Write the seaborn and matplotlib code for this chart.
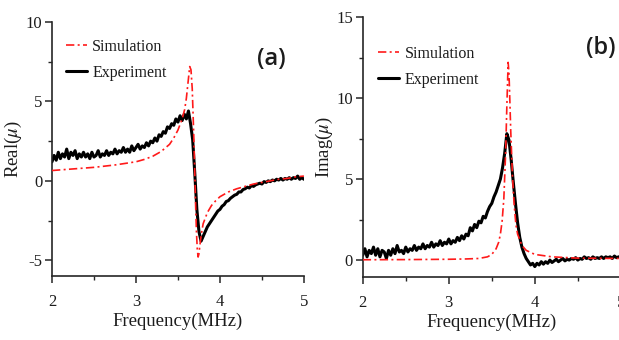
import numpy as np
import pandas as pd
import matplotlib
matplotlib.use("Agg")
import matplotlib.pyplot as plt
from matplotlib.ticker import MultipleLocator
import seaborn as sns

# ---------------- data ----------------
sim_freq_a = [2.0, 2.25, 2.5, 2.75, 3.0, 3.1, 3.2, 3.3, 3.4, 3.45, 3.5, 3.55, 3.58, 3.6, 3.62, 3.64,
              3.655, 3.67, 3.68, 3.69, 3.70, 3.71, 3.72, 3.73, 3.74, 3.75, 3.76, 3.78, 3.8, 3.85,
              3.9, 3.95, 4.0, 4.1, 4.2, 4.3, 4.4, 4.5, 4.6, 4.7, 4.8, 4.9, 5.0]
sim_real = [0.65, 0.75, 0.85, 1.0, 1.2, 1.35, 1.55, 1.85, 2.3, 2.7, 3.2, 3.9, 4.5, 5.2, 6.2, 7.2,
            7.0, 5.8, 4.2, 2.5, 0.6, -1.5, -3.2, -4.3, -4.8, -4.6, -4.1, -3.3, -2.7, -2.0,
            -1.55, -1.25, -1.0, -0.7, -0.5, -0.35, -0.2, -0.1, 0.0, 0.1, 0.15, 0.25, 0.3]

sim_freq_b = [2.0, 2.5, 3.0, 3.2, 3.35, 3.45, 3.5, 3.55, 3.58, 3.6, 3.62, 3.64, 3.66, 3.675, 3.69,
              3.70, 3.71, 3.72, 3.74, 3.76, 3.78, 3.8, 3.85, 3.9, 4.0, 4.2, 4.5, 5.0]
sim_imag = [0.02, 0.03, 0.05, 0.07, 0.1, 0.2, 0.35, 0.7, 1.1, 1.6, 2.4, 3.8, 6.5, 9.5, 12.2,
            11.5, 9.8, 8.0, 5.2, 3.4, 2.2, 1.6, 0.9, 0.6, 0.35, 0.2, 0.12, 0.1]

exp_freq = [2.000, 2.025, 2.050, 2.075, 2.100, 2.125, 2.150, 2.175, 2.200, 2.225, 2.250, 2.275,
            2.300, 2.325, 2.350, 2.375, 2.400, 2.425, 2.450, 2.475, 2.500, 2.525, 2.550, 2.575,
            2.600, 2.625, 2.650, 2.675, 2.700, 2.725, 2.750, 2.775, 2.800, 2.825, 2.850, 2.875,
            2.900, 2.925, 2.950, 2.975, 3.000, 3.025, 3.050, 3.075, 3.100, 3.125, 3.150, 3.175,
            3.200, 3.225, 3.250, 3.275, 3.300, 3.325, 3.350, 3.375, 3.400, 3.425, 3.450, 3.475,
            3.500, 3.525, 3.550, 3.575, 3.600, 3.625, 3.650, 3.675, 3.700, 3.725, 3.750, 3.775,
            3.800, 3.825, 3.850, 3.875, 3.900, 3.925, 3.950, 3.975, 4.000, 4.025, 4.050, 4.075,
            4.100, 4.125, 4.150, 4.175, 4.200, 4.225, 4.250, 4.275, 4.300, 4.325, 4.350, 4.375,
            4.400, 4.425, 4.450, 4.475, 4.500, 4.525, 4.550, 4.575, 4.600, 4.625, 4.650, 4.675,
            4.700, 4.725, 4.750, 4.775, 4.800, 4.825, 4.850, 4.875, 4.900, 4.925, 4.950, 4.975,
            5.000]

exp_real = [1.2, 1.6, 1.3, 1.8, 1.4, 1.7, 1.5, 2.0, 1.4, 1.8, 1.6, 1.9,
            1.4, 1.7, 1.5, 1.8, 1.5, 1.7, 1.4, 1.8, 1.5, 1.6, 1.9, 1.5,
            1.7, 1.6, 1.9, 1.6, 1.8, 1.7, 2.0, 1.7, 1.9, 1.8, 2.1, 1.8,
            2.0, 1.8, 2.2, 1.9, 2.1, 2.3, 2.0, 2.2, 2.1, 2.4, 2.2, 2.5,
            2.4, 2.7, 2.5, 2.9, 2.8, 3.1, 3.0, 3.4, 3.3, 3.6, 3.5, 3.9,
            3.7, 4.1, 3.8, 4.2, 3.9, 4.4, 3.6, 2.6, 0.5, -1.8, -3.2, -3.8,
            -3.5, -3.2, -2.9, -2.7, -2.5, -2.3, -2.1, -1.9, -1.8, -1.6, -1.5, -1.3,
            -1.25, -1.1, -1.0, -0.9, -0.85, -0.7, -0.7, -0.55, -0.5, -0.4, -0.45, -0.3,
            -0.35, -0.25, -0.2, -0.15, -0.2, -0.05, -0.1, 0.0, -0.05, 0.05, 0.0, 0.1,
            0.05, 0.15, 0.05, 0.15, 0.1, 0.2, 0.1, 0.2, 0.15, 0.3, 0.1, 0.2,
            0.1]

exp_imag = [0.3, 0.7, 0.2, 0.6, 0.4, 0.8, 0.3, 0.7, 0.2, 0.6, 0.5, 0.1,
            0.6, 0.3, 0.7, 0.4, 0.9, 0.5, 0.6, 0.4, 0.8, 0.5, 0.7, 0.6,
            0.9, 0.6, 0.8, 0.7, 1.0, 0.7, 0.9, 0.8, 1.1, 0.8, 1.0, 0.9,
            1.2, 0.9, 1.1, 1.0, 1.3, 1.0, 1.2, 1.1, 1.4, 1.2, 1.5, 1.3,
            1.6, 1.5, 2.0, 1.8, 2.2, 2.0, 2.4, 2.3, 2.7, 2.6, 3.0, 3.3,
            3.5, 3.9, 4.2, 4.6, 5.0, 5.7, 6.6, 7.8, 7.4, 6.2, 4.8, 3.5,
            2.3, 1.4, 0.8, 0.4, 0.1, -0.1, -0.3, -0.2, -0.4, -0.2, -0.3, -0.1,
            -0.25, -0.1, -0.2, 0.0, -0.15, -0.05, 0.05, -0.1, 0.0, 0.1, -0.05, 0.05,
            0.0, 0.1, 0.05, 0.15, 0.0, 0.1, 0.05, 0.2, 0.1, 0.15, 0.05, 0.2,
            0.1, 0.15, 0.1, 0.2, 0.1, 0.2, 0.15, 0.2, 0.1, 0.25, 0.15, 0.2,
            0.2]

# ---------------- style ----------------
sns.set_style("ticks")
plt.rcParams["font.family"] = ["Liberation Serif", "DejaVu Serif"]
plt.rcParams["mathtext.fontset"] = "stix"
plt.rcParams["axes.unicode_minus"] = False

TXT = "#1c1c1c"

fig = plt.figure(figsize=(6.19, 3.40), dpi=100)
ax_a = fig.add_axes([0.084, 0.188, 0.407, 0.747])
ax_b = fig.add_axes([0.586, 0.185, 0.417, 0.765])

df_sim_a = pd.DataFrame({"f": sim_freq_a, "v": sim_real})
df_exp_a = pd.DataFrame({"f": exp_freq, "v": exp_real})
df_sim_b = pd.DataFrame({"f": sim_freq_b, "v": sim_imag})
df_exp_b = pd.DataFrame({"f": exp_freq, "v": exp_imag})


def panel(ax, df_sim, df_exp, ylim, ymajor, ylabel, tag, tagpos, legpos):
    sns.lineplot(data=df_exp, x="f", y="v", ax=ax, color="black", linewidth=2.2,
                 label="Experiment", zorder=2)
    sns.lineplot(data=df_sim, x="f", y="v", ax=ax, color="#ff1a1a", linewidth=1.2,
                 linestyle=(0, (5, 2, 1.2, 2)), label="Simulation", zorder=3)
    ax.set_xlim(2, 5)
    ax.set_ylim(*ylim)
    ax.xaxis.set_major_locator(MultipleLocator(1))
    ax.xaxis.set_minor_locator(MultipleLocator(0.5))
    ax.yaxis.set_major_locator(MultipleLocator(ymajor))
    ax.yaxis.set_minor_locator(MultipleLocator(ymajor / 2))
    ax.tick_params(which="major", direction="out", length=5, width=1.1,
                   labelsize=12, labelcolor=TXT)
    ax.tick_params(axis="x", which="major", pad=8)
    ax.tick_params(axis="y", which="major", pad=2)
    ax.tick_params(which="minor", direction="out", length=3, width=1.0)
    for s in ["top", "right"]:
        ax.spines[s].set_visible(False)
    for s in ["left", "bottom"]:
        ax.spines[s].set_linewidth(1.2)
    ax.set_xlabel("Frequency(MHz)", fontsize=13.5, color=TXT, labelpad=2)
    ax.set_ylabel(ylabel, fontsize=13.5, color=TXT, labelpad=1)
    h, l = ax.get_legend_handles_labels()
    order = [l.index("Simulation"), l.index("Experiment")]
    ax.legend([h[i] for i in order], [l[i] for i in order], loc="upper left",
              bbox_to_anchor=legpos, frameon=False, fontsize=11.5,
              handlelength=1.3, handletextpad=0.35, labelspacing=0.65,
              borderpad=0, borderaxespad=0, labelcolor=TXT)
    ax.text(tagpos[0], tagpos[1], tag, transform=ax.transAxes, fontsize=17,
            fontweight="semibold", family=["Open Sans", "DejaVu Sans"], color=TXT,
            ha="center", va="center")


panel(ax_a, df_sim_a, df_exp_a, (-6, 10), 5, r"Real($\mu$)", "(a)", (0.87, 0.855),
      (0.055, 0.935))
panel(ax_b, df_sim_b, df_exp_b, (-1.05, 15), 5, r"Imag($\mu$)", "(b)", (0.922, 0.88),
      (0.06, 0.89))

fig.savefig("out.png", dpi=100)
